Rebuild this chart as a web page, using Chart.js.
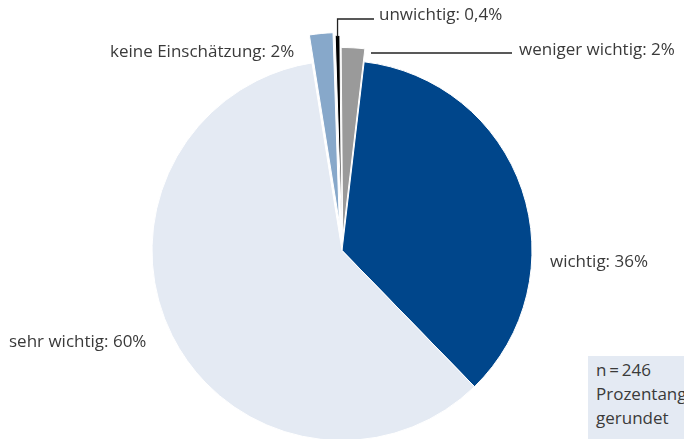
<!DOCTYPE html>
<html>
<head>
<meta charset="utf-8">
<script src="https://cdn.jsdelivr.net/npm/chart.js@4/dist/chart.umd.min.js"></script>
<style>
html, body { margin: 0; padding: 0; background: #fff; overflow: hidden; }
#wrap { position: relative; width: 684px; height: 439px; overflow: hidden; }
#hinweis {
    position: absolute; left: 588px; top: 356px; width: 120px; height: 90px;
    background: #e4eaf3; color: #3a3a3a; font: 17px "Open Sans", sans-serif;
    line-height: 24px; padding: 2px 0 0 8px; box-sizing: border-box; white-space: nowrap;
}
</style>
</head>
<body>
<div id="wrap">
    <canvas id="torte" width="684" height="439"></canvas>
    <div id="hinweis">n&thinsp;=&thinsp;246<br>Prozentangaben<br>gerundet</div>
</div>
<script>
// Werte aus der Grafik (Summe 100,4 wegen Rundung)
const kategorien = ['wichtig', 'sehr wichtig', 'keine Einschätzung', 'unwichtig', 'weniger wichtig']
const anteile = [36, 60, 2, 0.4, 2]
const beschriftungen = ['wichtig: 36%', 'sehr wichtig: 60%', 'keine Einschätzung: 2%', 'unwichtig: 0,4%', 'weniger wichtig: 2%']
const farben = ['#00468b', '#e4eaf3', '#87a8ca', '#000000', '#9a9a9a']
// wie weit die kleinen Stücke herausgezogen sind (px)
const herausgezogen = [0, 0, 28, 25, 13]

// Lage der Beschriftungen (links, Grundlinie)
const textPos = [[550, 267], [9, 347], [110, 57], [379, 20], [519, 55]]

const schrift = '17px "Open Sans", sans-serif'
const textFarbe = '#3a3a3a'

const verschiebung = (arc, d) => {
    const mitte = (arc.startAngle + arc.endAngle) / 2
    return { dx: Math.cos(mitte) * d, dy: Math.sin(mitte) * d }
}

// kleine Stücke parallel verschoben zeichnen (ohne Verkleinerung wie bei "offset")
const explodePlugin = {
    id: 'explode',
    beforeDatasetDraw(chart) {
        chart.getDatasetMeta(0).data.forEach((arc, i) => {
            arc.hidden = herausgezogen[i] > 0
        })
    },
    afterDatasetDraw(chart) {
        const ctx = chart.ctx
        chart.getDatasetMeta(0).data.forEach((arc, i) => {
            if (!herausgezogen[i]) return
            const v = verschiebung(arc, herausgezogen[i])
            ctx.save()
            ctx.translate(v.dx, v.dy)
            arc.draw(ctx)
            ctx.restore()
            arc.hidden = false
        })
    }
}

const beschriftungPlugin = {
    id: 'beschriftung',
    afterDraw(chart) {
        const ctx = chart.ctx
        const arcs = chart.getDatasetMeta(0).data
        ctx.save()
        ctx.font = schrift
        ctx.fillStyle = textFarbe
        ctx.textBaseline = 'alphabetic'
        ctx.textAlign = 'left'
        beschriftungen.forEach((txt, i) => {
            ctx.fillText(txt, textPos[i][0], textPos[i][1])
        })

        ctx.strokeStyle = '#222'
        ctx.lineWidth = 1.3
        // unwichtig: senkrecht nach oben, dann nach rechts
        const a = arcs[3]
        const v = verschiebung(a, herausgezogen[3])
        const mitte = (a.startAngle + a.endAngle) / 2
        const px = a.x + v.dx + Math.cos(mitte) * a.outerRadius
        const py = a.y + v.dy + Math.sin(mitte) * a.outerRadius
        ctx.beginPath()
        ctx.moveTo(px, py + 1)
        ctx.lineTo(px, 19)
        ctx.lineTo(374, 19)
        ctx.stroke()
        // weniger wichtig: waagrecht
        ctx.beginPath()
        ctx.moveTo(371, 53)
        ctx.lineTo(512, 53)
        ctx.stroke()
        ctx.restore()
    }
}

const zeichneTorte = () => {
    const canvas = document.querySelector('#torte')
    return new Chart(canvas, {
        type: 'pie',
        data: {
            labels: kategorien,
            datasets: [{
                data: anteile,
                backgroundColor: farben,
                borderColor: '#ffffff',
                borderWidth: 1
            }]
        },
        options: {
            responsive: false,
            animation: false,
            rotation: 6.7,
            radius: 190,
            layout: { padding: { top: 62, bottom: 0, left: 0, right: 0 } },
            plugins: {
                legend: { display: false },
                tooltip: { enabled: false }
            }
        },
        plugins: [explodePlugin, beschriftungPlugin]
    })
}

zeichneTorte()
</script>
</body>
</html>
